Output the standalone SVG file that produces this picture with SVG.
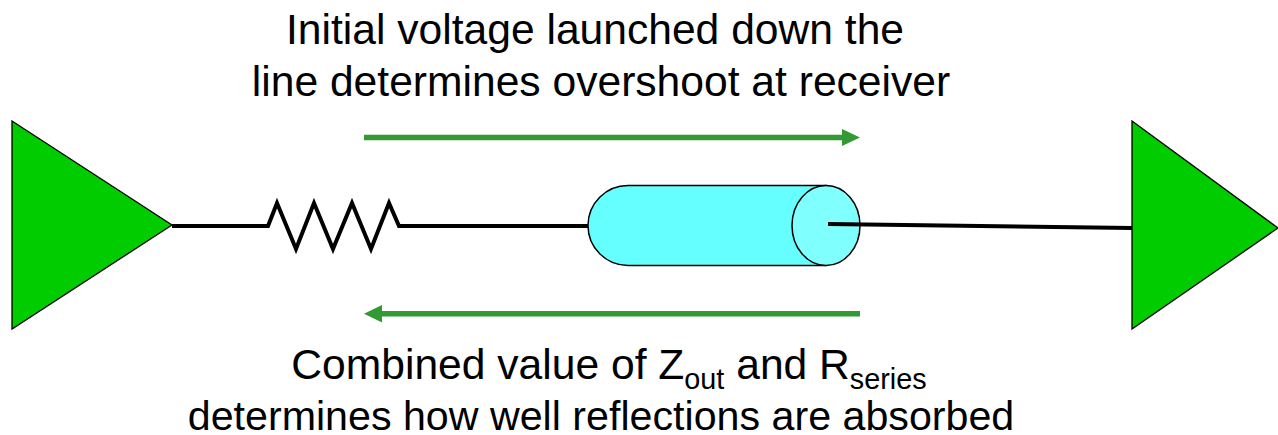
<svg xmlns="http://www.w3.org/2000/svg" width="1278" height="435" viewBox="0 0 1278 435">
<style>
text{font-family:"Liberation Sans",Arial,sans-serif;font-size:42.6px;fill:#000;text-anchor:middle}
.bot{font-size:41.2px}
.sub{font-size:28.8px}
.amp{fill:#00cc00;stroke:#000;stroke-width:1.3}
.wire{fill:none;stroke:#000;stroke-width:4}
.g{stroke:#339933;stroke-width:5.5;fill:none}
.ah{fill:#339933}
.cyl{fill:#66ffff;stroke:#000;stroke-width:1.5}
.cap{fill:#80ffff;stroke:#000;stroke-width:1.5}
</style>
<rect width="1278" height="435" fill="#fff"/>
<g id="driver"><polygon class="amp" points="12,121 172,225 12,329"/></g>
<g id="receiver"><polygon class="amp" points="1132,121 1278,228 1132,329"/></g>
<g id="line"><path class="cyl" d="M628 185.500H826V265.500H628A40 40 0 0 1 628 185.500Z"/><ellipse class="cap" cx="826" cy="225.500" rx="34" ry="40"/></g>
<g id="connectors">
<path class="wire" d="M172 226H268L277 203L296 249L314 203L333 249L352 203L371 249L389 203L399 226H588"/>
<path class="wire" d="M828 224L1132 228"/>
<path class="g" d="M364 137.500H845"/><polygon class="ah" points="860,137.500 842,129 842,146"/>
<path class="g" d="M860 313.700H380"/><polygon class="ah" points="364,313.700 382,305 382,322.500"/>
</g>
<g id="top-label"><text x="595" y="43.500">Initial voltage launched down the</text><text x="601" y="95.500">line determines overshoot at receiver</text></g>
<g id="bottom-label"><text x="609" y="379">Combined value of Z<tspan class="sub" dy="10">out</tspan><tspan dy="-10"> and R</tspan><tspan class="sub" dy="10">series</tspan></text><text class="bot" x="601" y="430">determines how well reflections are absorbed</text></g>
</svg>
